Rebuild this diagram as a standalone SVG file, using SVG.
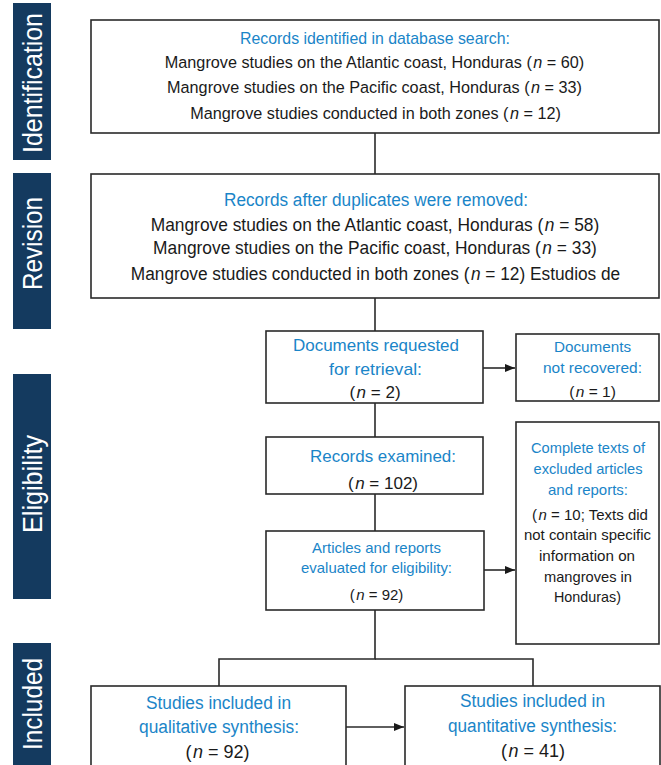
<svg xmlns="http://www.w3.org/2000/svg" width="661" height="765" viewBox="0 0 661 765">
<style>
text{font-family:"Liberation Sans",Arial,sans-serif;text-anchor:middle}
.bar{fill:#143a5f}
.side{fill:#ffffff;font-size:27px}
.box{fill:#ffffff;stroke:#2a2a2a;stroke-width:1.6}
.t{fill:#1a85c8}
.k{fill:#1a1a1a}
.c{fill:none;stroke:#2a2a2a;stroke-width:1.6}
.i{font-style:italic}
</style>
<defs>
<marker id="ah" viewBox="0 0 10 10" refX="10" refY="5" markerWidth="10" markerHeight="10" markerUnits="userSpaceOnUse" orient="auto">
<path d="M0,1 L10,5 L0,9 Z" fill="#1a1a1a"/>
</marker>
</defs>

<g id="stages">
<rect class="bar" x="13" y="3" width="38" height="157"/>
<rect class="bar" x="13" y="173" width="38" height="156"/>
<rect class="bar" x="13" y="374" width="38" height="225"/>
<rect class="bar" x="13" y="643" width="38" height="122"/>
<text class="side" transform="translate(42,83) rotate(-90)" textLength="140" lengthAdjust="spacingAndGlyphs">Identification</text>
<text class="side" transform="translate(42,243.5) rotate(-90)" textLength="93" lengthAdjust="spacingAndGlyphs">Revision</text>
<text class="side" transform="translate(42,484) rotate(-90)" textLength="98" lengthAdjust="spacingAndGlyphs">Eligibility</text>
<text class="side" transform="translate(42,704) rotate(-90)" textLength="92" lengthAdjust="spacingAndGlyphs">Included</text>
</g>

<g id="connectors">
<line class="c" x1="375" y1="133" x2="375" y2="174"/>
<line class="c" x1="375" y1="298" x2="375" y2="331"/>
<line class="c" x1="375" y1="403" x2="375" y2="437"/>
<line class="c" x1="375" y1="494" x2="375" y2="531"/>
<line class="c" x1="483" y1="368" x2="515" y2="368" marker-end="url(#ah)"/>
<line class="c" x1="484" y1="570" x2="515" y2="570" marker-end="url(#ah)"/>
<polyline class="c" points="375,610 375,659 219,659 219,686"/>
<polyline class="c" points="375,659 533,659 533,686"/>
<line class="c" x1="346" y1="727" x2="404" y2="727" marker-end="url(#ah)"/>
</g>

<g id="n1">
<rect class="box" x="91" y="20" width="568" height="113"/>
<text class="t" x="375" y="44" font-size="17" textLength="270" lengthAdjust="spacingAndGlyphs">Records identified in database search:</text>
<text class="k" transform="translate(374.5,68) scale(0.955,1)" font-size="17">Mangrove studies on the Atlantic coast, Honduras (<tspan class="i" dx="1.5">n</tspan> = 60)</text>
<text class="k" transform="translate(374.5,93) scale(0.955,1)" font-size="17">Mangrove studies on the Pacific coast, Honduras (<tspan class="i" dx="1.5">n</tspan> = 33)</text>
<text class="k" transform="translate(375.5,119) scale(0.955,1)" font-size="17">Mangrove studies conducted in both zones (<tspan class="i" dx="1.5">n</tspan> = 12)</text>
</g>

<g id="n2">
<rect class="box" x="91" y="174" width="568" height="124"/>
<text class="t" x="376" y="206" font-size="18" textLength="304" lengthAdjust="spacingAndGlyphs">Records after duplicates were removed:</text>
<text class="k" transform="translate(375,231) scale(0.965,1)" font-size="18">Mangrove studies on the Atlantic coast, Honduras (<tspan class="i" dx="1.5">n</tspan> = 58)</text>
<text class="k" transform="translate(375,254) scale(0.965,1)" font-size="18">Mangrove studies on the Pacific coast, Honduras (<tspan class="i" dx="1.5">n</tspan> = 33)</text>
<text class="k" transform="translate(375.5,280) scale(0.96,1)" font-size="18">Mangrove studies conducted in both zones (<tspan class="i" dx="1.5">n</tspan> = 12) Estudios de</text>
</g>

<g id="n3">
<rect class="box" x="266" y="331" width="217" height="72"/>
<text class="t" x="376" y="351" font-size="17" textLength="166" lengthAdjust="spacingAndGlyphs">Documents requested</text>
<text class="t" x="375.5" y="375" font-size="17" textLength="93" lengthAdjust="spacingAndGlyphs">for retrieval:</text>
<text class="k" x="375" y="398" font-size="17">(<tspan class="i" dx="1.5">n</tspan> = 2)</text>
</g>

<g id="n4">
<rect class="box" x="516" y="334" width="143" height="67"/>
<text class="t" x="592.5" y="352" font-size="15.5" textLength="77" lengthAdjust="spacingAndGlyphs">Documents</text>
<text class="t" x="592.5" y="373" font-size="15.5" textLength="99" lengthAdjust="spacingAndGlyphs">not recovered:</text>
<text class="k" x="592.5" y="397" font-size="15.5">(<tspan class="i" dx="1.5">n</tspan> = 1)</text>
</g>

<g id="n5">
<rect class="box" x="266" y="437" width="217" height="57"/>
<text class="t" x="383" y="462" font-size="17" textLength="146" lengthAdjust="spacingAndGlyphs">Records examined:</text>
<text class="k" x="383" y="489" font-size="17">(<tspan class="i" dx="1.5">n</tspan> = 102)</text>
</g>

<g id="n6">
<rect class="box" x="516" y="422" width="143" height="222"/>
<text class="t" x="588" y="453" font-size="15" textLength="114" lengthAdjust="spacingAndGlyphs">Complete texts of</text>
<text class="t" x="588" y="474" font-size="15" textLength="109" lengthAdjust="spacingAndGlyphs">excluded articles</text>
<text class="t" x="588" y="495" font-size="15" textLength="80" lengthAdjust="spacingAndGlyphs">and reports:</text>
<text class="k" x="590" y="520" font-size="15">(<tspan class="i" dx="1.5">n</tspan> = 10;  Texts did</text>
<text class="k" x="587.5" y="540" font-size="15" textLength="127" lengthAdjust="spacingAndGlyphs">not contain specific</text>
<text class="k" x="587" y="561" font-size="15" textLength="96" lengthAdjust="spacingAndGlyphs">information on</text>
<text class="k" x="588" y="582" font-size="15" textLength="88" lengthAdjust="spacingAndGlyphs">mangroves in</text>
<text class="k" x="587.5" y="602" font-size="15" textLength="67" lengthAdjust="spacingAndGlyphs">Honduras)</text>
</g>

<g id="n7">
<rect class="box" x="266" y="531" width="218" height="79"/>
<text class="t" x="376.5" y="553" font-size="15" textLength="129" lengthAdjust="spacingAndGlyphs">Articles and reports</text>
<text class="t" x="376.5" y="573" font-size="15" textLength="151" lengthAdjust="spacingAndGlyphs">evaluated for eligibility:</text>
<text class="k" x="376.5" y="600" font-size="15">(<tspan class="i" dx="1.5">n</tspan> = 92)</text>
</g>

<g id="n8">
<rect class="box" x="91" y="686" width="255" height="85"/>
<text class="t" x="218.5" y="709" font-size="18" textLength="145" lengthAdjust="spacingAndGlyphs">Studies included in</text>
<text class="t" x="219" y="733" font-size="18" textLength="160" lengthAdjust="spacingAndGlyphs">qualitative synthesis:</text>
<text class="k" x="217.5" y="758" font-size="18">(<tspan class="i" dx="1.5">n</tspan> = 92)</text>
</g>

<g id="n9">
<rect class="box" x="405" y="686" width="255" height="85"/>
<text class="t" x="532.5" y="707" font-size="18" textLength="145" lengthAdjust="spacingAndGlyphs">Studies included in</text>
<text class="t" x="532.5" y="732" font-size="18" textLength="169" lengthAdjust="spacingAndGlyphs">quantitative synthesis:</text>
<text class="k" x="533" y="757" font-size="18">(<tspan class="i" dx="1.5">n</tspan> = 41)</text>
</g>
</svg>
